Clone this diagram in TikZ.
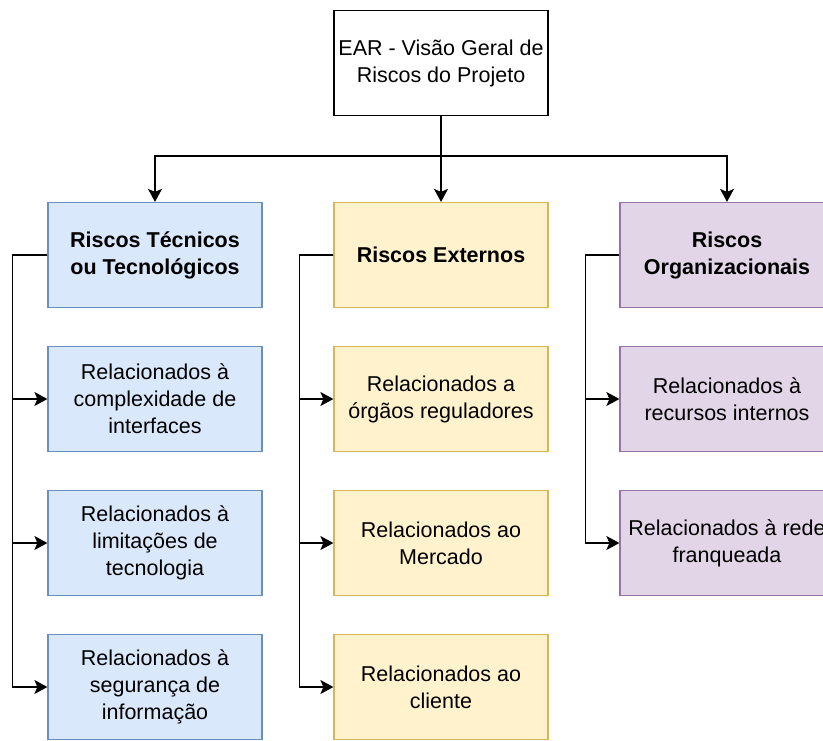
\documentclass[tikz,border=0pt]{standalone}
\usepackage{fontspec}
\setmainfont{Liberation Sans}
\usetikzlibrary{arrows.meta}
\definecolor{tecfill}{HTML}{DAE8FC}
\definecolor{tecline}{HTML}{6C8EBF}
\definecolor{extfill}{HTML}{FFF2CC}
\definecolor{extline}{HTML}{D6B656}
\definecolor{orgfill}{HTML}{E1D5E7}
\definecolor{orgline}{HTML}{9673A6}
\begin{document}
\begin{tikzpicture}[x=1pt,y=-1pt,
  box/.style={draw, line width=1.2pt, minimum width=214pt, minimum height=105pt,
    inner sep=0pt, align=center, font=\fontsize{21.5}{27}\selectfont},
  head/.style={font=\fontsize{21.5}{27}\selectfont\bfseries},
  tec/.style={box, fill=tecfill, draw=tecline},
  ext/.style={box, fill=extfill, draw=extline},
  org/.style={box, fill=orgfill, draw=orgline},
  link/.style={line width=1.6pt, -{Stealth[length=13pt,width=14pt,inset=3pt]}}]
\useasboundingbox (0,0) rectangle (823,740);
\clip (0,0) rectangle (823,740);
\pgfmathsetmacro{\colA}{155}
\pgfmathsetmacro{\colB}{441}
\pgfmathsetmacro{\colC}{727}
\node[box, fill=white, draw=black] (ear) at (\colB,63) {EAR - Visão Geral de\\Riscos do Projeto};
\node[tec, head] (tec) at (\colA,255) {Riscos Técnicos\\ou Tecnológicos};
\node[tec] (tec1) at (\colA,399) {Relacionados à\\complexidade de\\interfaces};
\node[tec] (tec2) at (\colA,543) {Relacionados à\\limitações de\\tecnologia};
\node[tec] (tec3) at (\colA,687) {Relacionados à\\segurança de\\informação};
\node[ext, head] (ext) at (\colB,255) {Riscos Externos};
\node[ext] (ext1) at (\colB,399) {Relacionados a\\órgãos reguladores};
\node[ext] (ext2) at (\colB,543) {Relacionados ao\\Mercado};
\node[ext] (ext3) at (\colB,687) {Relacionados ao\\cliente};
\node[org, head] (org) at (\colC,255) {Riscos\\Organizacionais};
\node[org] (org1) at (\colC,399) {Relacionados à\\recursos internos};
\node[org] (org2) at (\colC,543) {Relacionados à rede\\franqueada};
\draw[link] (ear.south) -- ++(0,40) -| (tec.north);
\draw[link] (ear.south) -- (ext.north);
\draw[link] (ear.south) -- ++(0,40) -| (org.north);
\foreach \n in {tec1,tec2,tec3}
  \draw[link] (tec.west) -- ++(-35,0) |- (\n.west);
\foreach \n in {ext1,ext2,ext3}
  \draw[link] (ext.west) -- ++(-34,0) |- (\n.west);
\foreach \n in {org1,org2}
  \draw[link] (org.west) -- ++(-34,0) |- (\n.west);
\end{tikzpicture}
\end{document}
